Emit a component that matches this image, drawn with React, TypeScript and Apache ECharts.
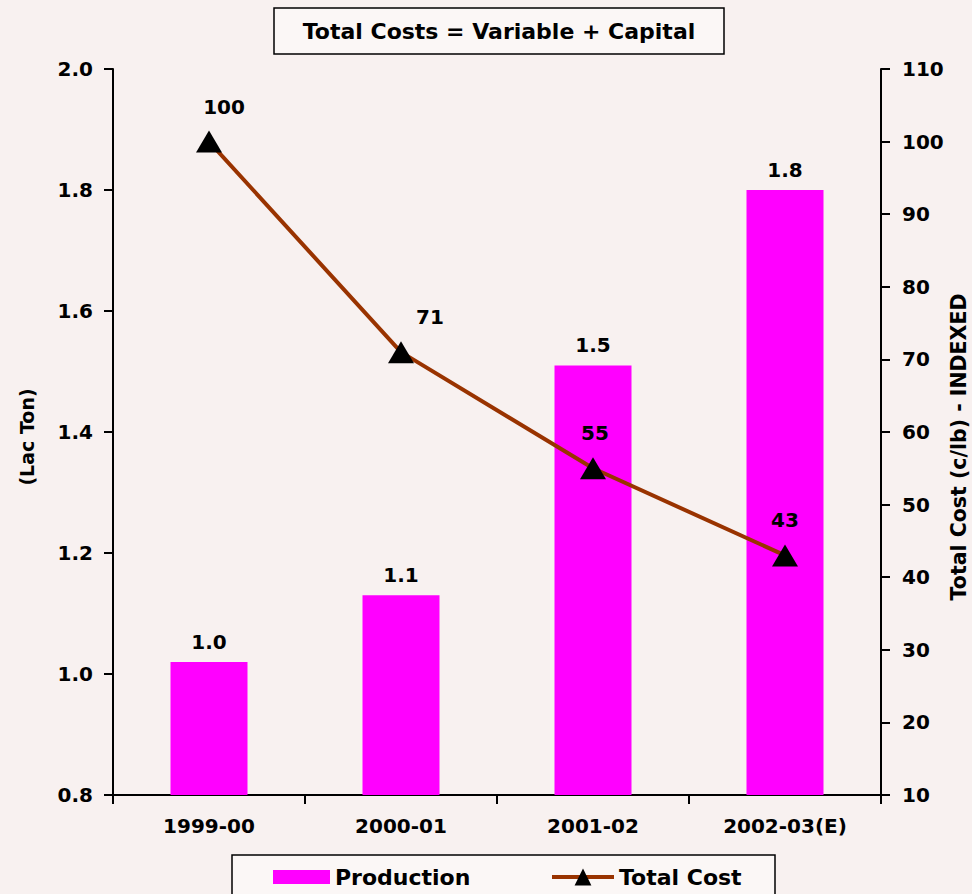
import React, { useEffect, useRef } from "react";
import * as echarts from "echarts";

const categories = ["1999-00", "2000-01", "2001-02", "2002-03(E)"];
const production = [1.02, 1.13, 1.51, 1.8];
const totalCost = [100, 71, 55, 43];
const costLabelOffsetX = [15, 29, 2, 0];
const titleText = "Total Costs = Variable + Capital";
const leftAxisName = "(Lac Ton)";
const rightAxisName = "Total Cost (c/lb) - INDEXED";

const FONT = "'DejaVu Sans', 'Liberation Sans', Arial, sans-serif";

export default function App() {
  const ref = useRef<HTMLDivElement>(null);
  useEffect(() => {
    if (!ref.current) return;
    const chart = echarts.init(ref.current, null, { renderer: "svg" });
    const axisLabelStyle = { color: "#000", fontSize: 20, fontWeight: "bold", fontFamily: FONT };
    const legendText = { color: "#000", fontSize: 22, fontWeight: "bold", fontFamily: FONT };
    chart.setOption({
      animation: false,
      backgroundColor: "#f8f1f0",
      textStyle: { fontFamily: FONT },
      grid: { left: 113, right: 91, top: 69, bottom: 99, containLabel: false, outerBoundsMode: "none" },
      graphic: [
        {
          type: "rect",
          shape: { x: 274, y: 8, width: 450, height: 46 },
          style: { fill: "#fbf7f6", stroke: "#000", lineWidth: 1.5 },
        },
        {
          type: "text",
          x: 499,
          y: 31,
          style: {
            text: titleText,
            fontSize: 22,
            fontWeight: "bold",
            fontFamily: FONT,
            fill: "#000",
            align: "center",
            verticalAlign: "middle",
          },
        },
        {
          type: "text",
          x: 27,
          y: 437,
          rotation: Math.PI / 2,
          style: {
            text: leftAxisName,
            fontSize: 19,
            fontWeight: "bold",
            fontFamily: FONT,
            fill: "#000",
            align: "center",
            verticalAlign: "middle",
          },
        },
        {
          type: "text",
          x: 959,
          y: 447,
          rotation: Math.PI / 2,
          style: {
            text: rightAxisName,
            fontSize: 20.5,
            fontWeight: "bold",
            fontFamily: FONT,
            fill: "#000",
            align: "center",
            verticalAlign: "middle",
          },
        },
        {
          type: "rect",
          z: -1,
          shape: { x: 232, y: 855, width: 543, height: 60 },
          style: { fill: "#fbf7f6", stroke: "#000", lineWidth: 1.5 },
        },
      ],
      legend: [
        {
          left: 273,
          top: 866,
          padding: 0,
          itemWidth: 57,
          itemHeight: 14,
          textStyle: legendText,
          data: [{ name: "Production", icon: "rect" }],
        },
        {
          left: 550,
          top: 866,
          padding: 0,
          itemWidth: 62,
          itemHeight: 21,
          textStyle: legendText,
          data: [
            {
              name: "Total Cost",
              lineStyle: { width: 4, color: "#993300" },
              itemStyle: { color: "#000" },
            },
          ],
        },
      ],
      xAxis: {
        type: "category",
        data: categories,
        boundaryGap: true,
        axisLine: { lineStyle: { color: "#000", width: 2 } },
        axisTick: { show: true, length: 9, lineStyle: { color: "#000", width: 2 } },
        axisLabel: { ...axisLabelStyle, margin: 21 },
        splitLine: { show: false },
      },
      yAxis: [
        {
          type: "value",
          min: 0.8,
          max: 2.0,
          interval: 0.2,
          position: "left",
          axisLine: { show: true, lineStyle: { color: "#000", width: 2 } },
          axisTick: { show: true, length: 9, lineStyle: { color: "#000", width: 2 } },
          axisLabel: { ...axisLabelStyle, margin: 20, formatter: (v: number) => v.toFixed(1) },
          splitLine: { show: false },
        },
        {
          type: "value",
          min: 10,
          max: 110,
          interval: 10,
          position: "right",
          axisLine: { show: true, lineStyle: { color: "#000", width: 2 } },
          axisTick: { show: true, length: 9, lineStyle: { color: "#000", width: 2 } },
          axisLabel: { ...axisLabelStyle, margin: 21 },
          splitLine: { show: false },
        },
      ],
      series: [
        {
          name: "Production",
          type: "bar",
          yAxisIndex: 0,
          data: production,
          barWidth: 77,
          itemStyle: { color: "#ff00ff" },
          label: {
            show: true,
            position: "top",
            distance: 10,
            color: "#000",
            fontSize: 20,
            fontWeight: "bold",
            fontFamily: FONT,
            formatter: (p: any) => Number(p.value).toFixed(1),
          },
        },
        {
          name: "Total Cost",
          type: "line",
          yAxisIndex: 1,
          data: totalCost.map((v, i) => ({
            value: v,
            label: { offset: [costLabelOffsetX[i], 0] },
          })),
          symbol: "triangle",
          symbolSize: [26, 22],
          itemStyle: { color: "#000" },
          lineStyle: { color: "#993300", width: 4 },
          z: 5,
          label: {
            show: true,
            position: "top",
            distance: 14,
            color: "#000",
            fontSize: 20,
            fontWeight: "bold",
            fontFamily: FONT,
          },
        },
      ],
    });
    return () => chart.dispose();
  }, []);
  return (
    <div
      ref={ref}
      style={{ position: "fixed", left: 0, top: 0, width: 972, height: 894 }}
    />
  );
}
